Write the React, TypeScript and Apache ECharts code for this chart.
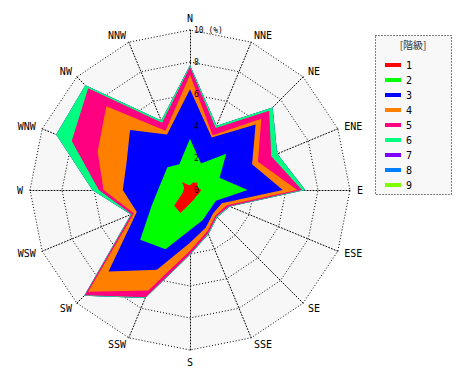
import React, { useEffect, useRef } from "react";
import * as echarts from "echarts";

const directions = ["N", "NNE", "NE", "ENE", "E", "ESE", "SE", "SSE", "S", "SSW", "SW", "WSW", "W", "WNW", "NW", "NNW"];
const classNames = ["1", "2", "3", "4", "5", "6", "7", "8", "9"];
const classColors = ["#ff0000", "#00ff00", "#0000ff", "#ff8000", "#ff0080", "#00ff80", "#8000ff", "#0080ff", "#80ff00"];

// frequency (%) of each class per direction, N clockwise
const class1 = [0.3, 0.5, 0.65, 0.5, 0.7, 0.6, 0.55, 0.65, 0.85, 1.55, 1.4, 0.5, 0.4, 0.4, 0.7, 0.35];
const class2 = [2.9, 1.3, 2.55, 1.5, 2.9, 1.15, 1.2, 1.4, 1.65, 2.45, 3.0, 2.1, 1.6, 1.45, 1.3, 1.4];
const class3 = [3.1, 1.75, 2.6, 2.2, 2.2, 0.4, 0.3, 0.5, 0.8, 1.4, 2.8, 1.0, 2.2, 2.45, 3.3, 2.0];
const class4 = [0.9, 0.15, 0.5, 0.4, 0.9, 0.35, 0.2, 0.25, 0.5, 1.4, 1.8, 0.2, 1.2, 1.95, 2.1, 0.25];
const class5 = [0.5, 0.5, 0.7, 0.9, 0.3, 0.15, 0.1, 0.15, 0.2, 0.45, 0.3, 0.15, 0.3, 1.75, 1.6, 0.55];
const class6 = [0.1, 0.15, 0.3, 0.4, 0.2, 0.05, 0.05, 0.05, 0.05, 0.05, 0.05, 0.05, 0.4, 1.05, 0.25, 0.15];
const class7 = [0, 0, 0, 0, 0, 0, 0, 0, 0, 0, 0, 0, 0, 0, 0, 0];
const class8 = [0, 0, 0, 0, 0, 0, 0, 0, 0, 0, 0, 0, 0, 0, 0, 0];
const class9 = [0, 0, 0, 0, 0, 0, 0, 0, 0, 0, 0, 0, 0, 0, 0, 0];

const radiusTicks = [0, 2, 4, 6, 8, 10];

const MONO = "'DejaVu Sans Mono', monospace";

export default function App() {
  const ref = useRef<HTMLDivElement>(null);
  useEffect(() => {
    document.body.style.margin = "0";
    if (!ref.current) return;
    const chart = echarts.init(ref.current, undefined, { renderer: "svg" });
    const classes = [class1, class2, class3, class4, class5, class6, class7, class8, class9];
    const cum: number[][] = [];
    classes.forEach((arr, i) => {
      cum.push(arr.map((v, j) => v + (i > 0 ? cum[i - 1][j] : 0)));
    });
    // radar goes counter-clockwise: reorder so that directions run clockwise
    const order = [0];
    for (let k = directions.length - 1; k >= 1; k--) order.push(k);
    const indicator = order.map((k) => ({ name: directions[k], max: 10, min: 0 }));
    const data = [];
    for (let i = classes.length - 1; i >= 0; i--) {
      data.push({
        name: classNames[i],
        value: order.map((k) => cum[i][k]),
        symbol: "none",
        itemStyle: { color: classColors[i] },
        lineStyle: { width: 0, opacity: 0 },
        areaStyle: { color: classColors[i], opacity: 1 },
      });
    }
    chart.setOption({
      animation: false,
      radar: {
        center: [190, 190],
        radius: 160,
        startAngle: 90,
        shape: "polygon",
        splitNumber: 5,
        indicator,
        nameGap: 7,
        axisName: { color: "#000", fontSize: 10, fontFamily: MONO },
        axisLine: { lineStyle: { color: "#000", type: [1, 2], width: 1 } },
        splitLine: { lineStyle: { color: "#000", type: [1, 2], width: 1 } },
        splitArea: { show: true, areaStyle: { color: ["#f7f7f7"] } },
      },
      polar: { center: [190, 190], radius: 160 },
      angleAxis: { type: "value", min: 0, max: 360, startAngle: 90, show: false },
      radiusAxis: {
        type: "value",
        min: 0,
        max: 10,
        interval: 2,
        z: 10,
        axisLine: { show: false },
        axisTick: { show: false },
        splitLine: { show: false },
        axisLabel: {
          show: true,
          margin: -4,
          align: "left",
          color: "#000",
          fontSize: 8,
          fontFamily: MONO,
          padding: [0, 0, 6, 0],
          formatter: (v: number) => (v === radiusTicks[radiusTicks.length - 1] ? v + " (%)" : String(v)),
        },
      },
      legend: {
        orient: "vertical",
        left: 380,
        top: 54,
        icon: "rect",
        itemWidth: 16,
        itemHeight: 4,
        itemGap: 3,
        selectedMode: false,
        data: classNames,
        z: 10,
        textStyle: { color: "#000", fontSize: 10, lineHeight: 12, fontFamily: MONO },
      },
      graphic: [
        {
          type: "rect",
          z: 1,
          shape: { x: 375.5, y: 35.5, width: 76, height: 159 },
          style: { fill: "#f8f8f8", stroke: "#000", lineWidth: 1, lineDash: [1, 2] },
        },
        {
          type: "text",
          z: 2,
          x: 413,
          y: 44,
          style: {
            text: "[階級]",
            fill: "#333",
            font: "10px 'Noto Sans CJK JP'",
            textAlign: "center",
            textVerticalAlign: "middle",
          },
        },
      ],
      series: [
        {
          type: "radar",
          silent: true,
          data,
        },
      ],
    });
    return () => chart.dispose();
  }, []);
  return <div ref={ref} style={{ width: 470, height: 380 }} />;
}
